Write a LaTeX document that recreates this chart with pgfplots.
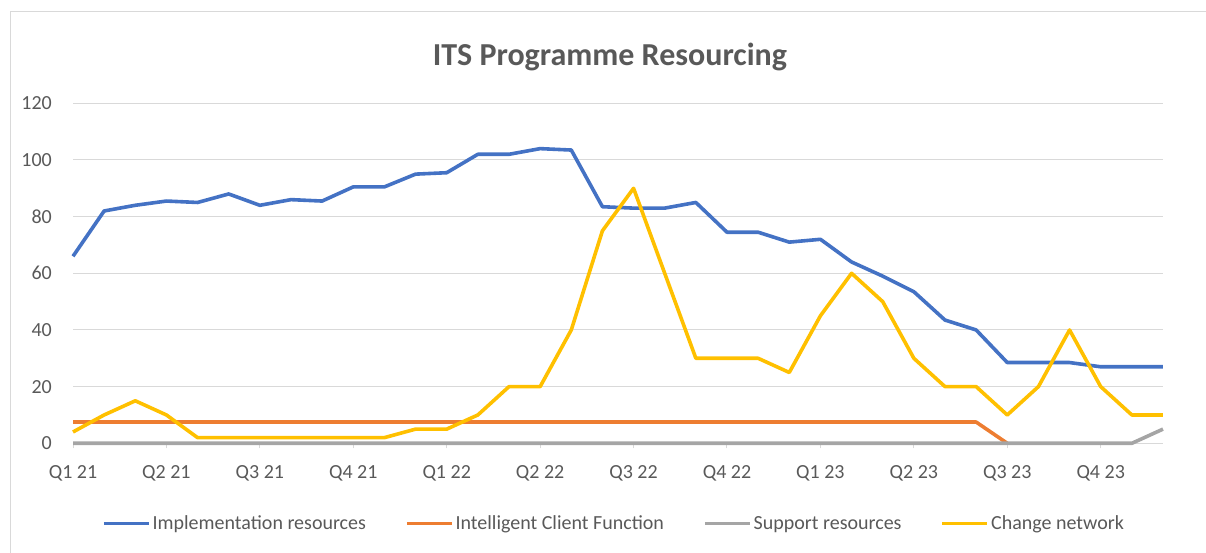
\documentclass[border=0pt]{standalone}
\usepackage{fontspec}
\setmainfont{Carlito}
\usepackage{pgfplots}
\pgfplotsset{compat=1.18}
\definecolor{cblue}{HTML}{4472C4}
\definecolor{corange}{HTML}{ED7D31}
\definecolor{cgray}{HTML}{A5A5A5}
\definecolor{cyellow}{HTML}{FFC000}
\definecolor{ctext}{HTML}{595959}
\definecolor{cgrid}{HTML}{D9D9D9}
\begin{document}
\begin{tikzpicture}
\path[use as bounding box] (0,0) rectangle (1206bp,553bp);
\draw[cgrid, line width=1bp] (10bp,0) -- (10bp,541bp) -- (1206bp,541bp);
\node[text=ctext, font=\fontsize{32bp}{36bp}\selectfont\bfseries] at (610bp,496bp) {ITS Programme Resourcing};
\begin{axis}[
  at={(73bp,109.7bp)}, anchor=south west, scale only axis,
  width=1090bp, height=340bp,
  xmin=0, xmax=35, ymin=0, ymax=120,
  xtick={0,3,...,33},
  xticklabels={Q1 21,Q2 21,Q3 21,Q4 21,Q1 22,Q2 22,Q3 22,Q4 22,Q1 23,Q2 23,Q3 23,Q4 23},
  ytick={0,20,...,120},
  ymajorgrids, grid style={cgrid, line width=1bp},
  axis x line*=bottom, axis y line*=left,
  x axis line style={cgrid, line width=1bp},
  y axis line style={draw=none},
  tick align=outside, major tick length=5bp,
  xtick style={cgrid, line width=1bp},
  ytick style={draw=none},
  tick label style={font=\fontsize{20bp}{24bp}\selectfont, text=ctext},
  /pgf/number format/assume math mode=true,
  yticklabel style={anchor=east, inner sep=0pt, xshift=-16bp},
  xticklabel style={anchor=north, inner sep=0pt, yshift=-17bp},
  clip=false,
  legend style={at={(0.4963,-0.236)}, anchor=center, legend columns=4, draw=none, fill=none,
    font=\fontsize{20bp}{24bp}\selectfont, text=ctext,
    /tikz/every even column/.append style={column sep=37bp}},
  legend cell align=left,
  legend image code/.code={\draw[#1, line width=3.6bp] (0bp,0bp) -- (45bp,0bp);},
  every axis plot/.append style={line width=3.6bp, line join=round, no markers},
]
\addplot[cblue] coordinates {
(0,66) (1,82) (2,84) (3,85.5) (4,85) (5,88) (6,84) (7,86) (8,85.5) (9,90.5) (10,90.5) (11,95)
(12,95.5) (13,102) (14,102) (15,104) (16,103.5) (17,83.5) (18,83) (19,83) (20,85) (21,74.5) (22,74.5) (23,71)
(24,72) (25,64) (26,59) (27,53.5) (28,43.5) (29,40) (30,28.5) (31,28.5) (32,28.5) (33,27) (34,27) (35,27)};
\addlegendentry{Implementation resources}
\addplot[corange] coordinates {
(0,7.5) (1,7.5) (2,7.5) (3,7.5) (4,7.5) (5,7.5) (6,7.5) (7,7.5) (8,7.5) (9,7.5) (10,7.5) (11,7.5)
(12,7.5) (13,7.5) (14,7.5) (15,7.5) (16,7.5) (17,7.5) (18,7.5) (19,7.5) (20,7.5) (21,7.5) (22,7.5) (23,7.5)
(24,7.5) (25,7.5) (26,7.5) (27,7.5) (28,7.5) (29,7.5) (30,0)};
\addlegendentry{Intelligent Client Function}
\addplot[cgray] coordinates {
(0,0) (1,0) (2,0) (3,0) (4,0) (5,0) (6,0) (7,0) (8,0) (9,0) (10,0) (11,0)
(12,0) (13,0) (14,0) (15,0) (16,0) (17,0) (18,0) (19,0) (20,0) (21,0) (22,0) (23,0)
(24,0) (25,0) (26,0) (27,0) (28,0) (29,0) (30,0) (31,0) (32,0) (33,0) (34,0) (35,5)};
\addlegendentry{Support resources}
\addplot[cyellow] coordinates {
(0,4) (1,10) (2,15) (3,10) (4,2) (5,2) (6,2) (7,2) (8,2) (9,2) (10,2) (11,5)
(12,5) (13,10) (14,20) (15,20) (16,40) (17,75) (18,90) (19,60) (20,30) (21,30) (22,30) (23,25)
(24,45) (25,60) (26,50) (27,30) (28,20) (29,20) (30,10) (31,20) (32,40) (33,20) (34,10) (35,10)};
\addlegendentry{Change network}
\end{axis}
\end{tikzpicture}
\end{document}
